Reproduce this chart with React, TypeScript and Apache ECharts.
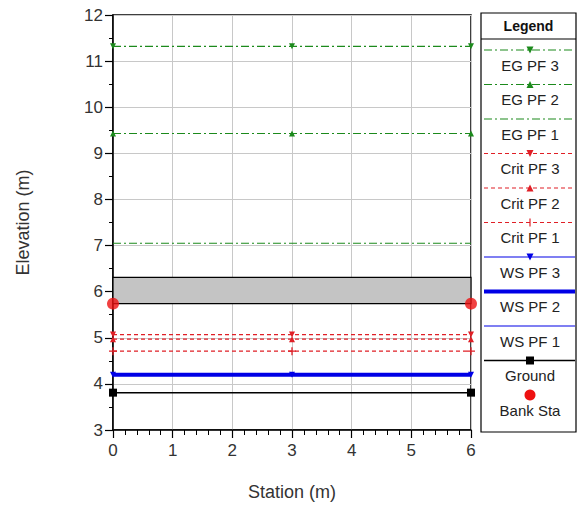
import React, { useEffect, useRef } from "react";
import * as echarts from "echarts";

// ---- data ----
const stations = [0, 3, 6];
const egPF3 = [11.32, 11.32, 11.32];
const egPF2 = [9.43, 9.43, 9.43];
const egPF1 = [7.05, 7.05, 7.05];
const critPF3 = [5.07, 5.07, 5.07];
const critPF2 = [4.97, 4.97, 4.97];
const critPF1 = [4.71, 4.71, 4.71];
const wsPF3 = [4.2, 4.2, 4.2];
const wsPF2 = [4.2, 4.2, 4.2];
const wsPF1 = [4.2, 4.2, 4.2];
const groundX = [0, 6];
const groundY = [3.81, 3.81];
const bankX = [0, 6];
const bankY = [5.74, 5.74];
const deckX = [0, 6];
const deckLowHigh = [5.74, 6.31];

const GREEN = "#1c8a1c";
const RED = "#e01f26";
const BLUE = "#0000e6";
const FONT = "Liberation Sans, Arial, sans-serif";

const TRI_DOWN = "path://M0,0L10,0L5,9Z";
const TRI_UP = "path://M5,0L10,9L0,9Z";
const PLUS = "path://M4.2,0H5.8V4.2H10V5.8H5.8V10H4.2V5.8H0V4.2H4.2Z";

type Mk = "triDown" | "triUp" | "plus" | "square" | "circle" | "none";
interface Def {
  name: string;
  x: number[];
  y: number[];
  color: string;
  width: number;
  dash: any;
  marker: Mk;
  size: number;
}

const defs: Def[] = [
  { name: "EG PF 3", x: stations, y: egPF3, color: GREEN, width: 1.2, dash: [8, 3, 2, 3], marker: "triDown", size: 6 },
  { name: "EG PF 2", x: stations, y: egPF2, color: GREEN, width: 1.2, dash: [8, 3, 2, 3], marker: "triUp", size: 6 },
  { name: "EG PF 1", x: stations, y: egPF1, color: GREEN, width: 1.2, dash: [8, 3, 2, 3], marker: "none", size: 0 },
  { name: "Crit PF 3", x: stations, y: critPF3, color: RED, width: 1.2, dash: [4, 3], marker: "triDown", size: 6 },
  { name: "Crit PF 2", x: stations, y: critPF2, color: RED, width: 1.2, dash: [4, 3], marker: "triUp", size: 6 },
  { name: "Crit PF 1", x: stations, y: critPF1, color: RED, width: 1.2, dash: [4, 3], marker: "plus", size: 8 },
  { name: "WS PF 3", x: stations, y: wsPF3, color: BLUE, width: 1.2, dash: "solid", marker: "triDown", size: 6 },
  { name: "WS PF 2", x: stations, y: wsPF2, color: BLUE, width: 4, dash: "solid", marker: "none", size: 0 },
  { name: "WS PF 1", x: stations, y: wsPF1, color: BLUE, width: 1.2, dash: "solid", marker: "none", size: 0 },
  { name: "Ground", x: groundX, y: groundY, color: "#000000", width: 1.5, dash: "solid", marker: "square", size: 8 },
];

const symbolOf = (m: Mk) =>
  m === "triDown" ? TRI_DOWN : m === "triUp" ? TRI_UP : m === "plus" ? PLUS : m === "square" ? "rect" : m === "circle" ? "circle" : "none";

function legendGraphics() {
  const g: any[] = [];
  const L = 481, T = 13, W = 95, H = 419;
  g.push({ type: "rect", shape: { x: L, y: T, width: W, height: H }, style: { fill: "#fff", stroke: "#000", lineWidth: 1.2 }, z: 1 });
  g.push({ type: "line", shape: { x1: L, y1: 39, x2: L + W, y2: 39 }, style: { stroke: "#000", lineWidth: 1.2 }, z: 2 });
  g.push({ type: "text", x: L + W / 2, y: 26, style: { text: "Legend", fill: "#111", font: `bold 14px ${FONT}`, textAlign: "center", textVerticalAlign: "middle" }, z: 2 });
  const x1 = 484, x2 = 575, cx = 530;
  const items = [...defs.map((d) => ({ ...d })), { name: "Bank Sta", color: "#ee1111", marker: "circle" as Mk, width: 0, dash: "solid", size: 11 }];
  items.forEach((d: any, i: number) => {
    const ly = 50 + i * 34.5;
    if (d.width > 0) {
      g.push({ type: "line", shape: { x1, y1: ly, x2, y2: ly }, style: { stroke: d.color, lineWidth: d.width, lineDash: d.dash === "solid" ? null : d.dash }, z: 2 });
    }
    const s = 3.5;
    if (d.marker === "triDown") g.push({ type: "polygon", shape: { points: [[cx - s, ly - s], [cx + s, ly - s], [cx, ly + s]] }, style: { fill: d.color }, z: 3 });
    if (d.marker === "triUp") g.push({ type: "polygon", shape: { points: [[cx - s, ly + s], [cx + s, ly + s], [cx, ly - s]] }, style: { fill: d.color }, z: 3 });
    if (d.marker === "plus") {
      g.push({ type: "line", shape: { x1: cx, y1: ly - 4, x2: cx, y2: ly + 4 }, style: { stroke: d.color, lineWidth: 1.2 }, z: 3 });
    }
    if (d.marker === "square") g.push({ type: "rect", shape: { x: cx - 4, y: ly - 4, width: 8, height: 8 }, style: { fill: d.color }, z: 3 });
    if (d.marker === "circle") g.push({ type: "circle", shape: { cx, cy: ly, r: 5.5 }, style: { fill: d.color }, z: 3 });
    g.push({ type: "text", x: cx, y: ly + 15, style: { text: d.name, fill: "#222", font: `15px ${FONT}`, textAlign: "center", textVerticalAlign: "middle" }, z: 3 });
  });
  return g;
}

export default function App() {
  const ref = useRef<HTMLDivElement>(null);
  useEffect(() => {
    if (!ref.current) return;
    const chart = echarts.init(ref.current, null, { renderer: "svg" });
    const lineSeries = defs.map((d, i) => ({
      name: d.name,
      type: "line",
      data: d.x.map((x, j) => [x, d.y[j]]),
      symbol: symbolOf(d.marker),
      symbolSize: d.size,
      showAllSymbol: true,
      clip: false,
      lineStyle: { color: d.color, width: d.width, type: d.dash },
      itemStyle: { color: d.color },
      z: 3 + i,
      emphasis: { disabled: true },
    }));
    const option: any = {
      animation: false,
      backgroundColor: "#fff",
      grid: { left: 113, top: 15, width: 358, height: 416, show: true, borderColor: "#000", borderWidth: 1.5, backgroundColor: "transparent" },
      xAxis: {
        type: "value",
        min: 0,
        max: 6,
        interval: 1,
        name: "Station (m)",
        nameLocation: "middle",
        nameGap: 53,
        nameTextStyle: { fontFamily: FONT, fontSize: 18, color: "#333" },
        axisLine: { show: true, lineStyle: { color: "#000", width: 1.5 } },
        axisTick: { show: true, length: 8, lineStyle: { color: "#000", width: 1.2 } },
        minorTick: { show: true, splitNumber: 5, length: 5, lineStyle: { color: "#000", width: 1 } },
        axisLabel: { fontFamily: FONT, fontSize: 17, color: "#333", margin: 12 },
        splitLine: { show: true, lineStyle: { color: "#c8c8c8", width: 1 } },
      },
      yAxis: {
        type: "value",
        min: 3,
        max: 12,
        interval: 1,
        name: "Elevation (m)",
        nameLocation: "middle",
        nameGap: 81,
        nameTextStyle: { fontFamily: FONT, fontSize: 18, color: "#333" },
        axisLine: { show: true, lineStyle: { color: "#000", width: 1.5 } },
        axisTick: { show: true, length: 8, lineStyle: { color: "#000", width: 1.2 } },
        minorTick: { show: true, splitNumber: 2, length: 4, lineStyle: { color: "#000", width: 1 } },
        axisLabel: { fontFamily: FONT, fontSize: 17, color: "#333", margin: 10 },
        splitLine: { show: true, lineStyle: { color: "#c8c8c8", width: 1 } },
      },
      series: [
        {
          name: "Deck",
          type: "line",
          data: [],
          z: 1,
          markArea: {
            silent: true,
            itemStyle: { color: "#c4c4c4", borderColor: "#000", borderWidth: 1.2 },
            data: [[{ coord: [deckX[0], deckLowHigh[0]] }, { coord: [deckX[1], deckLowHigh[1]] }]],
          },
        },
        ...lineSeries,
        {
          name: "Bank Sta",
          type: "scatter",
          data: bankX.map((x, j) => [x, bankY[j]]),
          symbol: "circle",
          symbolSize: 12,
          clip: false,
          itemStyle: { color: "#ee1111" },
          z: 20,
        },
      ],
      graphic: legendGraphics(),
    };
    chart.setOption(option);
    return () => chart.dispose();
  }, []);
  return <div ref={ref} style={{ position: "fixed", left: 0, top: 0, width: 578, height: 506 }} />;
}
